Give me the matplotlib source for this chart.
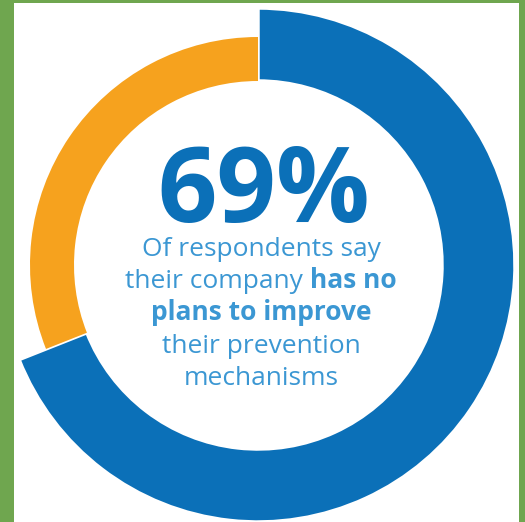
import matplotlib
matplotlib.use("Agg")
import matplotlib.pyplot as plt
from matplotlib.patches import Rectangle

# Data
labels = ["No plans to improve", "Other"]
values = [69, 31]
headline = "69%"
line1 = "Of respondents say"
line2_regular = "their company "
line2_bold = "has no"
line3_bold = "plans to improve"
line4 = "their prevention"
line5 = "mechanisms"

W, H = 525, 522
BLUE = "#0b70b8"
ORANGE = "#f6a21e"
TEXT_BLUE = "#3b97d3"
GREEN = "#6fa64f"

fig = plt.figure(figsize=(W / 100, H / 100), dpi=100, facecolor=GREEN)
ax = fig.add_axes([0, 0, 1, 1])

def Y(y):
    return H - y

cx, cy = 258, Y(265)
r_in = 184
r_blue = 257
r_orange = 228

ax.add_patch(Rectangle((14, 0), 505, H - 3, facecolor="white", edgecolor="none", zorder=0))

wedges1, _ = ax.pie(values, colors=[BLUE, "none"], startangle=90, counterclock=False,
                    radius=r_blue, center=(cx, cy),
                    wedgeprops=dict(width=r_blue - r_in, edgecolor="none", linewidth=0))
wedges2, _ = ax.pie(values, colors=["none", ORANGE], startangle=90, counterclock=False,
                    radius=r_orange, center=(cx, cy),
                    wedgeprops=dict(width=r_orange - r_in, edgecolor="none", linewidth=0))
for w in wedges1 + wedges2:
    w.set_zorder(1)
wedges1[1].set_visible(False)
wedges2[0].set_visible(False)
wedges1[0].set_edgecolor("white")
wedges1[0].set_linewidth(2.5)

ax.set_xlim(0, W)
ax.set_ylim(0, H)
ax.set_aspect("auto")
ax.axis("off")

FONT = "Open Sans"
tx = 261
ax.text(264, Y(222), headline, ha="center", va="baseline", fontsize=75,
        fontweight="bold", color=BLUE, family=FONT, zorder=3)

fs = 19
ax.text(tx, Y(256), line1, ha="center", va="baseline", fontsize=fs, color=TEXT_BLUE, family=FONT)

t_reg = ax.text(0, Y(288), line2_regular, ha="left", va="baseline", fontsize=fs, color=TEXT_BLUE, family=FONT)
t_bold = ax.text(0, Y(288), line2_bold, ha="left", va="baseline", fontsize=fs, color=TEXT_BLUE,
                 family=FONT, fontweight="bold")
fig.canvas.draw()
r = fig.canvas.get_renderer()
w_reg = t_reg.get_window_extent(r).width
w_bold = t_bold.get_window_extent(r).width
# pixel -> data is 1:1
x0 = tx - (w_reg + w_bold) / 2
t_reg.set_x(x0)
t_bold.set_x(x0 + w_reg)

ax.text(tx, Y(320), line3_bold, ha="center", va="baseline", fontsize=fs, color=TEXT_BLUE,
        family=FONT, fontweight="bold")
ax.text(tx, Y(353), line4, ha="center", va="baseline", fontsize=fs, color=TEXT_BLUE, family=FONT)
ax.text(tx, Y(385), line5, ha="center", va="baseline", fontsize=fs, color=TEXT_BLUE, family=FONT)

fig.savefig("out.png", dpi=100, facecolor=GREEN)
